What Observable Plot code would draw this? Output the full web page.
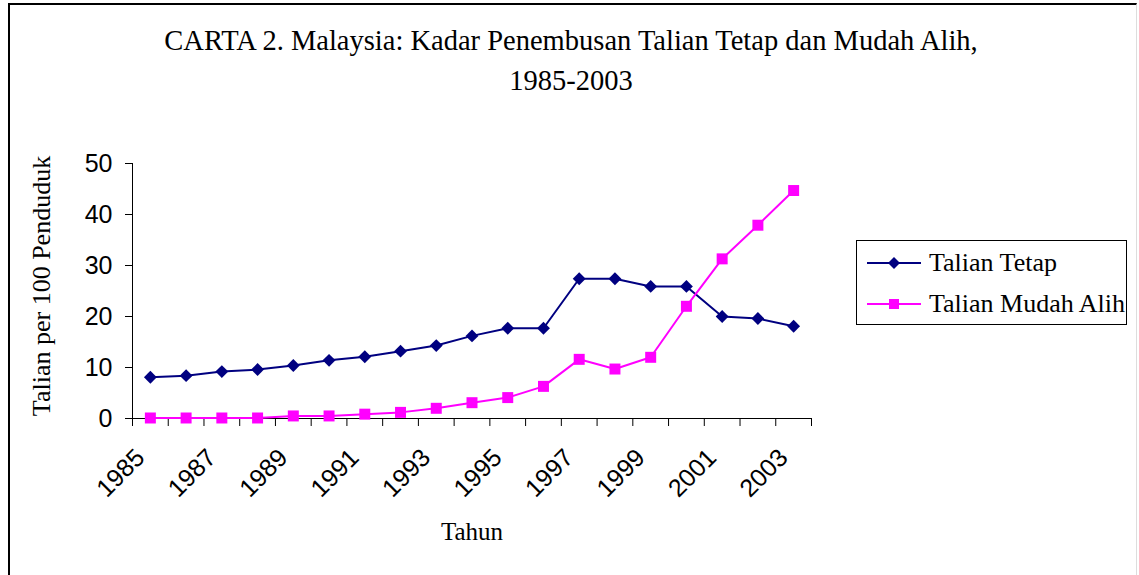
<!DOCTYPE html>
<html>
<head>
<meta charset="utf-8">
<script src="https://cdn.jsdelivr.net/npm/d3@7"></script>
<script src="https://cdn.jsdelivr.net/npm/@observablehq/plot@0.6"></script>
<style>
  html, body { margin: 0; padding: 0; background: #fff; }
  #wrap { position: relative; width: 1139px; height: 575px; overflow: hidden; background: #fff; }
  #frame { position: absolute; left: 8px; top: 3px; width: 1129px; height: 600px;
           border-left: 2px solid #000; border-top: 2px solid #000; border-right: 1px solid #ddd; box-sizing: border-box; }
  .title { position: absolute; left: 0; width: 1142px; text-align: center;
           font-family: "Liberation Serif", "Times New Roman", serif; font-size: 28.5px; color: #000; line-height: 32px; white-space: nowrap; }
  #chart { position: absolute; left: 0; top: 0; }
  #legend { position: absolute; left: 856px; top: 240px; width: 271px; height: 85px; border: 1px solid #000;
            box-sizing: border-box; background: #fff; font-family: "Liberation Serif", "Times New Roman", serif; font-size: 26px; }
  .lrow { position: absolute; left: 0; height: 30px; display: flex; align-items: center; white-space: nowrap; }
  .lrow svg { margin-left: 10px; margin-right: 8px; }
</style>
</head>
<body>
<div id="wrap">
  <div id="frame"></div>
  <div class="title" id="t1" style="top:25px;"></div>
  <div class="title" id="t2" style="top:65px;"></div>
  <div id="chart"></div>
  <div id="legend"></div>
</div>
<script>
const titleLines = ["CARTA 2. Malaysia: Kadar Penembusan Talian Tetap dan Mudah Alih,", "1985-2003"];
const yTitle = "Talian per 100 Penduduk";
const xTitle = "Tahun";

const years = [1985, 1986, 1987, 1988, 1989, 1990, 1991, 1992, 1993, 1994, 1995, 1996, 1997, 1998, 1999, 2000, 2001, 2002, 2003];
const talianTetap = [8.1, 8.4, 9.2, 9.6, 10.4, 11.4, 12.1, 13.2, 14.3, 16.2, 17.7, 17.7, 27.4, 27.4, 25.9, 25.9, 20.0, 19.6, 18.1];
const talianMudahAlih = [0.1, 0.1, 0.1, 0.1, 0.5, 0.5, 0.85, 1.2, 2.0, 3.1, 4.1, 6.3, 11.6, 9.7, 12.0, 22.0, 31.3, 37.9, 44.7];

const seriesNames = ["Talian Tetap", "Talian Mudah Alih"];
const seriesColors = ["#000080", "#FF00FF"];
const xTickLabels = [1985, 1987, 1989, 1991, 1993, 1995, 1997, 1999, 2001, 2003];
const yTicks = [0, 10, 20, 30, 40, 50];

document.getElementById("t1").textContent = titleLines[0];
document.getElementById("t2").textContent = titleLines[1];

const rows = [];
years.forEach((yr, i) => {
  rows.push({year: yr, value: talianTetap[i], series: seriesNames[0]});
  rows.push({year: yr, value: talianMudahAlih[i], series: seriesNames[1]});
});
const tetapRows = rows.filter(d => d.series === seriesNames[0]);
const mudahRows = rows.filter(d => d.series === seriesNames[1]);

// category boundaries (Excel-style ticks between categories)
const boundaries = years.map(y => y - 0.5).concat([years[years.length - 1] + 0.5]);
const xDomain = [boundaries[0], boundaries[boundaries.length - 1]];

const serif = "Liberation Serif, Times New Roman, serif";
const sans = "Liberation Sans, Arial, sans-serif";

const chart = Plot.plot({
  width: 1139,
  height: 575,
  marginLeft: 132,
  marginRight: 328,
  marginTop: 163,
  marginBottom: 157,
  style: {fontFamily: sans, fontSize: "25px", color: "#000", background: "transparent"},
  x: {domain: xDomain},
  y: {domain: [0, 50]},
  marks: [
    Plot.axisY({ticks: yTicks, tickSize: 7, tickPadding: 13, label: null, fontSize: 25, stroke: "#000"}),
    Plot.axisX({ticks: boundaries, tickSize: 8, tickFormat: () => "", label: null, stroke: "#000"}),
    Plot.ruleX([xDomain[0]], {y1: 0, y2: 50, stroke: "#000"}),
    Plot.ruleY([0], {x1: xDomain[0], x2: xDomain[1], stroke: "#000"}),
    Plot.text(xTickLabels, {x: d => d, text: d => String(d), frameAnchor: "bottom", rotate: -45, textAnchor: "end",
      lineAnchor: "middle", dx: -10, dy: 35, fontSize: 25, fontFamily: sans, fill: "#000"}),
    Plot.text([yTitle], {frameAnchor: "left", rotate: -90, textAnchor: "middle", lineAnchor: "middle",
      dx: -91, dy: -5, fontSize: 26, fontFamily: serif, fill: "#000"}),
    Plot.text([xTitle], {frameAnchor: "bottom", textAnchor: "middle", dy: 121, fontSize: 25, fontFamily: serif, fill: "#000"}),
    Plot.line(tetapRows, {x: "year", y: "value", stroke: seriesColors[0], strokeWidth: 2}),
    Plot.line(mudahRows, {x: "year", y: "value", stroke: seriesColors[1], strokeWidth: 2}),
    Plot.dot(tetapRows, {x: "year", y: "value", symbol: "diamond2", r: 5.8, fill: seriesColors[0], stroke: "none"}),
    Plot.dot(mudahRows, {x: "year", y: "value", symbol: "square", r: 6.2, fill: seriesColors[1], stroke: "none"})
  ]
});
document.getElementById("chart").appendChild(chart);

// legend
const legend = document.getElementById("legend");
const legendSymbols = [
  '<polygon points="27,7 33,13 27,19 21,13" fill="COLOR"/>',
  '<rect x="22" y="8" width="10" height="10" fill="COLOR"/>'
];
seriesNames.forEach((name, i) => {
  const row = document.createElement("div");
  row.className = "lrow";
  row.style.top = (i === 0 ? 7 : 48) + "px";
  row.innerHTML = '<svg width="54" height="26"><line x1="0" x2="54" y1="13" y2="13" stroke="' + seriesColors[i] +
    '" stroke-width="2"/>' + legendSymbols[i].replace("COLOR", seriesColors[i]) + '</svg><span>' + name + '</span>';
  legend.appendChild(row);
});
</script>
</body>
</html>
